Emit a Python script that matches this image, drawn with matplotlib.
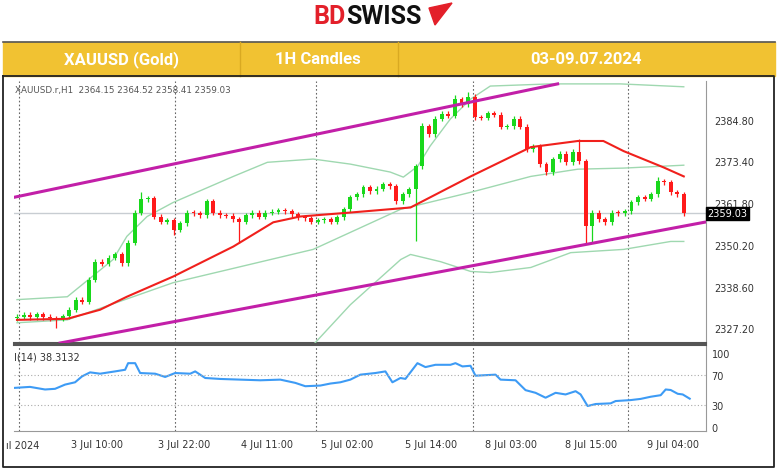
import matplotlib
matplotlib.use("Agg")
import matplotlib.pyplot as plt
from matplotlib.patches import Rectangle, Polygon
import numpy as np

W, H = 780, 477
closes = [2330.4,2330.9,2330.2,2331.0,2330.3,2330.0,2329.8,2330.5,2332.3,2335.1,
 2334.5,2340.6,2345.6,2345.0,2346.7,2347.6,2345.1,2350.9,2359.2,2362.9,
 2363.2,2358.1,2356.7,2357.0,2354.5,2356.2,2359.2,2359.0,2358.4,2362.3,
 2359.2,2358.4,2358.3,2357.3,2356.7,2358.4,2359.2,2358.1,2359.2,2359.4,
 2359.8,2359.6,2358.7,2357.9,2357.6,2356.7,2357.0,2357.4,2356.7,2357.9,
 2360.1,2363.4,2364.2,2366.2,2365.1,2365.8,2367.0,2366.5,2362.3,2364.2,
 2365.6,2372.0,2383.1,2380.9,2385.1,2386.5,2386.0,2390.6,2389.2,2391.2,
 2385.6,2385.4,2386.7,2386.3,2382.9,2383.1,2385.1,2382.9,2376.7,2377.6,
 2372.6,2370.4,2374.0,2375.4,2373.1,2376.0,2373.4,2355.4,2359.2,2357.3,
 2356.5,2359.2,2359.0,2359.5,2362.0,2363.4,2363.0,2364.2,2367.9,2367.6,
 2364.8,2364.2,2359.0]
first_open = 2330.0
up_wick = [0.7] * len(closes)
dn_wick = [0.7] * len(closes)
for i, v in {19: 1.9, 69: 1.4, 86: 3.5, 98: 1.2, 62: 1.0, 67: 1.2}.items():
    up_wick[i] = v
for i, v in {6: 2.5, 34: 5.8, 61: 14.4, 87: 4.5, 88: 4.5, 24: 1.5}.items():
    dn_wick[i] = v

ma_x = [0,7.7,12.7,16.8,23.9,33.1,39.2,43.3,51,60.2,69.4,78.6,85.8,89.7,92.8,98.9,102]
ma_y = [2329.5,2329.8,2332.3,2335.9,2341.5,2349.8,2356.5,2358.1,2359.2,2360.6,2369.2,2377.3,2379.0,2379.0,2376.2,2371.7,2369.2]
bbu_x = [0,7.7,14.7,16.8,19.9,23.9,33.1,38.3,45.3,51,57.1,59.1,61.3,63.2,66.3,69.4,72.4,81.6,92.3,102]
bbu_y = [2335.1,2335.9,2346.2,2352.6,2358.1,2362.0,2369.2,2373.1,2374.0,2372.6,2370.4,2369.0,2372.0,2377.6,2385.1,2390.6,2394.2,2394.8,2394.8,2394.0]
bbm_x = [0,7.7,23.9,45.3,58.7,69.4,78.6,85.8,92.8,102]
bbm_y = [2328.7,2329.5,2339.8,2349.0,2360.1,2364.8,2369.2,2371.2,2371.5,2372.3]
bbl_x = [44.5,51,58.7,60.2,64.8,69.4,72.4,78.6,84.7,92.8,100,102]
bbl_y = [2321.0,2333.7,2346.2,2347.6,2345.6,2342.9,2342.6,2344.0,2348.1,2349.0,2351.2,2351.2]
chan_up = ([-0.5, 82.7], [2363.4, 2394.8])
chan_dn = ([6.6, 105.7], [2323.1, 2356.7])
last_price = 2359.03

rsi_px = [15,30,45,55,65,75,82,90,100,115,125,128,135,140,155,165,175,190,195,205,220,240,260,280,295,305,320,330,340,350,360,375,385,392,400,405,417,425,435,450,455,462,470,475,495,500,515,525,535,545,555,565,575,580,587,595,610,615,630,640,650,660,665,670,677,682,689]
rsi_v = [52.9,54.2,50.7,51.6,57.3,60.4,68.4,73.8,72.0,75.1,77.3,86.2,86.2,72.9,72.0,67.6,72.9,72.0,75.1,66.2,64.9,64.0,63.1,64.0,59.6,55.1,56.0,58.7,60.4,64.0,70.7,72.9,75.1,60.4,66.2,65.0,86.2,80.9,84.0,84.0,86.2,81.8,82.7,69.3,70.7,64.0,63.1,49.8,46.2,39.6,46.2,44.0,48.4,44.0,28.4,31.1,32.0,35.1,36.4,38.0,40.9,43.0,50.7,50.0,44.9,44.0,38.3]
rsi_x = [(p - 17) / 6.53 for p in rsi_px]

price_ticks = [2327.20, 2338.60, 2350.20, 2361.80, 2373.40, 2384.80]
time_tick_pos = [12.3, 25.6, 38.3, 50.5, 63.3, 75.5, 87.8, 100.3]
time_labels = ["3 Jul 10:00", "3 Jul 22:00", "4 Jul 11:00", "5 Jul 02:00", "5 Jul 14:00", "8 Jul 03:00", "8 Jul 15:00", "9 Jul 04:00"]
vgrid = [0.3, 24.2, 45.8, 69.7, 93.4]

def rect(x, y, w, h):
    return [x / W, 1 - (y + h) / H, w / W, h / H]

fig = plt.figure(figsize=(W / 100, H / 100), dpi=100)
fig.patch.set_facecolor("white")
over = fig.add_axes([0, 0, 1, 1]); over.set_xlim(0, W); over.set_ylim(H, 0); over.axis("off")

# logo
over.text(346, 17, "BD", color="#E3202A", fontsize=18, fontweight="bold", family="Roboto", ha="right", va="center")
over.text(346, 17, "SWISS", color="#111111", fontsize=18, fontweight="bold", family="Roboto", ha="left", va="center")
over.add_patch(Polygon([[429, 9], [452, 4], [435, 26]], closed=True, color="#E3202A"))
# header bar
over.add_patch(Rectangle((3, 43), 772, 34, color="#F1C232"))
over.plot([3, 775], [43, 43], color="#555555", lw=1.2)
for xd in [240, 398]:
    over.plot([xd, xd], [43, 77], color="#D9A922", lw=1)
for xt, t in [(122, "XAUUSD (Gold)"), (318, "1H Candles"), (586, "03-09.07.2024")]:
    over.text(xt, 60, t, color="white", fontsize=12, fontweight="bold", family="Roboto", ha="center", va="center")
# frame
over.plot([3, 3, 774, 774, 3], [77, 468, 468, 77, 77], color="#222222", lw=1.3)

ax = fig.add_axes(rect(14, 82, 692, 262))
rx = fig.add_axes(rect(14, 346, 692, 86), sharex=ax)
n = len(closes)
opens = [first_open] + closes[:-1]
xs = np.arange(n)
for i in range(n):
    o, c = opens[i], closes[i]
    col = "#19D81C" if c >= o else "#FF1A1A"
    hi = max(o, c) + up_wick[i]; lo = min(o, c) - dn_wick[i]
    ax.vlines(xs[i], lo, hi, color=col, lw=0.9, zorder=4)
    ax.bar(xs[i], max(abs(c - o), 0.25), bottom=min(o, c), width=0.6, color=col, zorder=5)
ax.plot(bbu_x, bbu_y, color="#9FD8B0", lw=1.0, zorder=3)
ax.plot(bbm_x, bbm_y, color="#9FD8B0", lw=1.0, zorder=3)
ax.plot(bbl_x, bbl_y, color="#9FD8B0", lw=1.0, zorder=3)
ax.plot(ma_x, ma_y, color="#F0201C", lw=1.5, zorder=6)
ax.plot(*chan_up, color="#C21FA8", lw=2.2, zorder=7)
ax.plot(*chan_dn, color="#C21FA8", lw=2.2, zorder=7)
ax.axhline(last_price, color="#C8CDD2", lw=1, zorder=2)
for v in vgrid:
    ax.axvline(v, color="#666666", lw=0.8, ls=(0, (1.5, 2)), zorder=1)
    rx.axvline(v, color="#666666", lw=0.8, ls=(0, (1.5, 2)), zorder=1)
ax.set_xlim(-0.46, 105.4)
ax.set_ylim(2323.1, 2395.6)
ax.yaxis.tick_right()
ax.set_yticks(price_ticks)
ax.set_yticklabels([f"{p:.2f}" for p in price_ticks], fontsize=7, color="#333333")
ax.tick_params(axis="y", length=0, pad=6)
ax.tick_params(axis="x", length=0, labelbottom=False)
for s in ["left", "top"]:
    ax.spines[s].set_visible(False)
ax.spines["right"].set_color("#999999")
ax.spines["bottom"].set_color("#555555"); ax.spines["bottom"].set_linewidth(1.5)
ax.text(0.002, 0.985, "XAUUSD.r,H1  2364.15 2364.52 2358.41 2359.03", transform=ax.transAxes,
        fontsize=6.3, color="#555555", va="top", ha="left")
ax.text(1.002, (last_price - 2323.1) / (2395.6 - 2323.1), f"{last_price:.2f}", transform=ax.transAxes,
        fontsize=7, color="white", va="center", ha="left",
        bbox=dict(boxstyle="square,pad=0.15", fc="black", ec="black"), zorder=10, clip_on=False)

rx.plot(rsi_x, rsi_v, color="#3D9BF5", lw=1.5)
for lv in [70, 30]:
    rx.axhline(lv, color="#AAAAAA", lw=0.8, ls=(0, (1, 2)))
rx.set_ylim(-5.3, 110.7)
rx.yaxis.tick_right()
rx.set_yticks([0, 30, 70, 100])
rx.set_yticklabels(["0", "30", "70", "100"], fontsize=7, color="#333333")
rx.tick_params(axis="y", length=0, pad=4)
rx.set_xticks(time_tick_pos)
rx.set_xticklabels(time_labels, fontsize=7, color="#333333")
rx.tick_params(axis="x", length=0, pad=6)
for s in ["left", "top"]:
    rx.spines[s].set_visible(False)
rx.spines["right"].set_color("#999999")
rx.spines["bottom"].set_color("#999999")
rx.spines["top"].set_visible(True); rx.spines["top"].set_color("#555555"); rx.spines["top"].set_linewidth(1.5)
rx.text(0.0, 0.93, "I(14) 38.3132", transform=rx.transAxes, fontsize=7, color="#333333", va="top")
over.text(6, 446, "ıl 2024", fontsize=7, color="#333333", va="center", ha="left")

fig.savefig("out.png", dpi=100)
